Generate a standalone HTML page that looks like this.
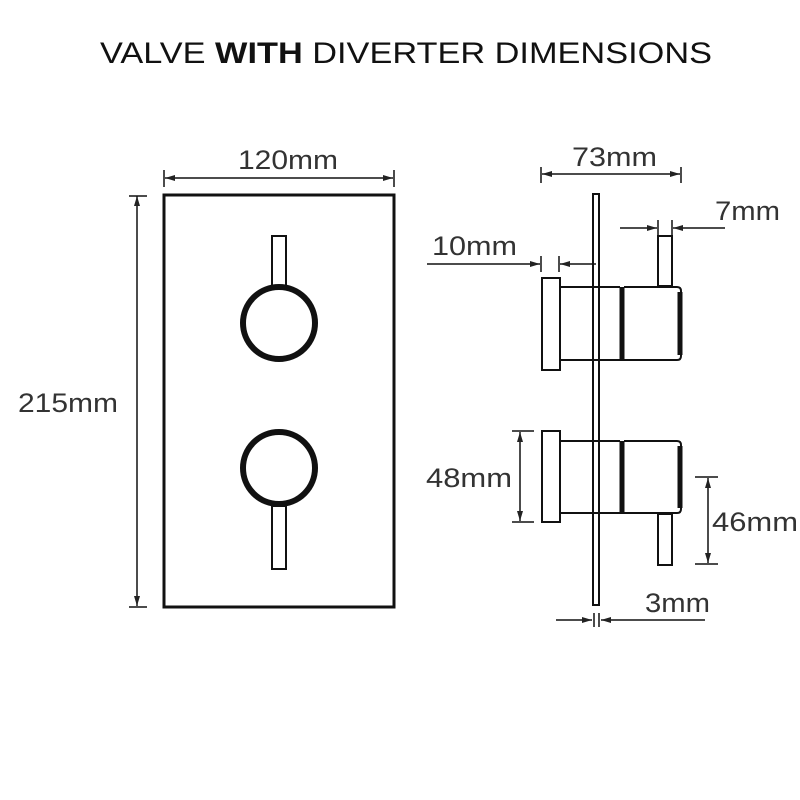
<!DOCTYPE html>
<html><head><style>body{margin:0;background:#fff}svg{display:block}</style></head><body>
<svg width="800" height="800" viewBox="0 0 800 800" xmlns="http://www.w3.org/2000/svg">
<defs>
<marker id="a" viewBox="0 0 10 6" refX="10" refY="3" markerWidth="10" markerHeight="6" orient="auto-start-reverse" markerUnits="userSpaceOnUse"><path d="M0,0L10,3L0,6z" fill="#222"/></marker>
</defs>
<text x="406" y="63" font-family="Liberation Sans, sans-serif" font-size="30" text-anchor="middle" fill="#111" textLength="612" lengthAdjust="spacingAndGlyphs">VALVE <tspan font-weight="bold">WITH</tspan> DIVERTER DIMENSIONS</text>
<g font-family="Liberation Sans, sans-serif" font-size="27" fill="#333">
<text x="238" y="169" textLength="100" lengthAdjust="spacingAndGlyphs">120mm</text>
<text x="18" y="412" textLength="100" lengthAdjust="spacingAndGlyphs">215mm</text>
<text x="572" y="166" textLength="85" lengthAdjust="spacingAndGlyphs">73mm</text>
<text x="715" y="220" textLength="65" lengthAdjust="spacingAndGlyphs">7mm</text>
<text x="432" y="255" textLength="85" lengthAdjust="spacingAndGlyphs">10mm</text>
<text x="426" y="487" textLength="86" lengthAdjust="spacingAndGlyphs">48mm</text>
<text x="712" y="531" textLength="86" lengthAdjust="spacingAndGlyphs">46mm</text>
<text x="645" y="612" textLength="65" lengthAdjust="spacingAndGlyphs">3mm</text>
</g>
<g stroke="#111" fill="none">
<rect x="164" y="195" width="230" height="412" stroke-width="3"/>
<circle cx="279" cy="323" r="36" stroke-width="6"/>
<rect x="272" y="236" width="14" height="50" stroke-width="2"/>
<circle cx="279" cy="468" r="36" stroke-width="6"/>
<rect x="272" y="506" width="14" height="63" stroke-width="2"/>
<g stroke-width="1.5">
<line x1="165" y1="178" x2="393" y2="178" marker-start="url(#a)" marker-end="url(#a)"/>
<line x1="164" y1="170" x2="164" y2="187"/><line x1="394" y1="170" x2="394" y2="187"/>
<line x1="137" y1="196" x2="137" y2="606" marker-start="url(#a)" marker-end="url(#a)"/>
<line x1="129" y1="196" x2="147" y2="196"/><line x1="129" y1="607" x2="147" y2="607"/>
</g>
<rect x="593" y="194" width="6" height="411" stroke-width="2"/>
<g stroke-width="2">
<rect x="542" y="278" width="18" height="92"/>
<path d="M560 287H620M560 360H620"/>
<path d="M624 287H677Q681 287 681 291V356Q681 360 677 360H624" />
<rect x="658" y="236" width="14" height="50"/>
<rect x="542" y="431" width="18" height="91"/>
<path d="M560 441H620M560 513H620"/>
<path d="M624 441H677Q681 441 681 445V509Q681 513 677 513H624" />
<rect x="658" y="514" width="14" height="51"/>
</g>
<g stroke-width="5">
<line x1="622" y1="287" x2="622" y2="361"/><line x1="622" y1="441" x2="622" y2="514"/>
<line x1="680" y1="292" x2="680" y2="355"/><line x1="680" y1="446" x2="680" y2="508"/>
</g>
<g stroke-width="1.5">
<line x1="542" y1="174" x2="680" y2="174" marker-start="url(#a)" marker-end="url(#a)"/>
<line x1="541" y1="167" x2="541" y2="183"/><line x1="681" y1="167" x2="681" y2="183"/>
<line x1="620" y1="228" x2="657" y2="228" marker-end="url(#a)"/>
<line x1="725" y1="228" x2="673" y2="228" marker-end="url(#a)"/>
<line x1="658" y1="220" x2="658" y2="236"/><line x1="672" y1="220" x2="672" y2="236"/>
<line x1="427" y1="264" x2="540" y2="264" marker-end="url(#a)"/>
<line x1="596" y1="264" x2="560" y2="264" marker-end="url(#a)"/>
<line x1="541" y1="256" x2="541" y2="272"/><line x1="559" y1="256" x2="559" y2="272"/>
<line x1="520" y1="432" x2="520" y2="521" marker-start="url(#a)" marker-end="url(#a)"/>
<line x1="512" y1="431" x2="534" y2="431"/><line x1="512" y1="522" x2="534" y2="522"/>
<line x1="708" y1="478" x2="708" y2="563" marker-start="url(#a)" marker-end="url(#a)"/>
<line x1="695" y1="477" x2="718" y2="477"/><line x1="695" y1="564" x2="718" y2="564"/>
<line x1="556" y1="620" x2="592" y2="620" marker-end="url(#a)"/>
<line x1="705" y1="620" x2="601" y2="620" marker-end="url(#a)"/>
<line x1="594" y1="613" x2="594" y2="627"/><line x1="599" y1="613" x2="599" y2="627"/>
</g>
</g>
</svg>
</body></html>
